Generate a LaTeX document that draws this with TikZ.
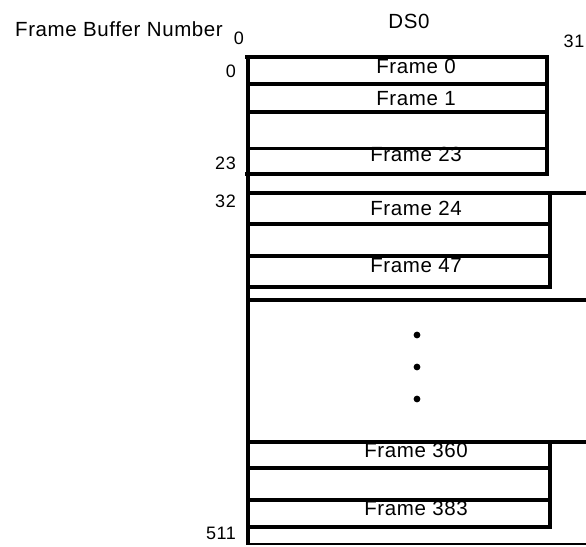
\documentclass[tikz,border=0pt]{standalone}
\usepackage{fontspec}
\setmainfont{Liberation Sans}[LetterSpace=3]
\usepackage{tikz}

\tikzset{
  frameline/.style={line width=4pt, line cap=rect},
  frametext/.style={inner sep=0pt, font=\fontsize{20.5}{23}\selectfont},
  numtext/.style={inner sep=0pt, font=\fontsize{18}{21}\selectfont}
}

\begin{document}
\begin{tikzpicture}[x=1pt, y=-1pt]
    \useasboundingbox (0,0) rectangle (586,546);

    % headings
    \node [frametext] (title) at (119,29.5) {Frame Buffer Number};
    \node [numtext] (bitlo) at (239,38) {0};
    \node [frametext] (ds) at (409,21) {DS0};
    \node [numtext] (bithi) at (574,41) {31};

    % frame buffer numbers
    \node [numtext, anchor=east] (n0) at (236,71) {0};
    \node [numtext, anchor=east] (n23) at (236,163) {23};
    \node [numtext, anchor=east] (n32) at (236,201) {32};
    \node [numtext, anchor=east] (n511) at (236,533) {511};

    % first block of frames
    \draw [frameline] (247,57) -- (547,57) -- (547,174) -- (247,174);
    \draw [frameline] (248,83.5) -- (547,83.5);
    \draw [frameline] (248,112) -- (547,112);
    \draw [line width=3pt] (248,148) -- (547,148);

    % second block of frames
    \draw [frameline] (248,193) -- (590,193);
    \draw [frameline] (550,193) -- (550,287) -- (248,287);
    \draw [frameline] (248,224) -- (550,224);
    \draw [frameline] (248,256) -- (550,256);
    \draw [frameline] (248,300) -- (590,300);

    % last block of frames
    \draw [frameline] (248,442) -- (590,442);
    \draw [frameline] (550,442) -- (550,527) -- (248,527);
    \draw [frameline] (248,468) -- (550,468);
    \draw [frameline] (248,500) -- (550,500);
    \draw [line width=2pt] (248,544) -- (590,544);

    % left edge of the buffer
    \draw [line width=3.5pt] (248,55.5) -- (248,545);

    % frame labels
    \node [frametext] (f0) at (416,66.5) {Frame 0};
    \node [frametext] (f1) at (416,98.5) {Frame 1};
    \node [frametext] (f23) at (416,154.5) {Frame 23};
    \node [frametext] (f24) at (416,208.5) {Frame 24};
    \node [frametext] (f47) at (416,266) {Frame 47};
    \node [frametext] (f360) at (416,450) {Frame 360};
    \node [frametext] (f383) at (416,508.5) {Frame 383};

    % dots for the skipped frames
    \foreach \y in {335,367,399}
        \fill (417,\y) circle (3.4pt);
\end{tikzpicture}
\end{document}
